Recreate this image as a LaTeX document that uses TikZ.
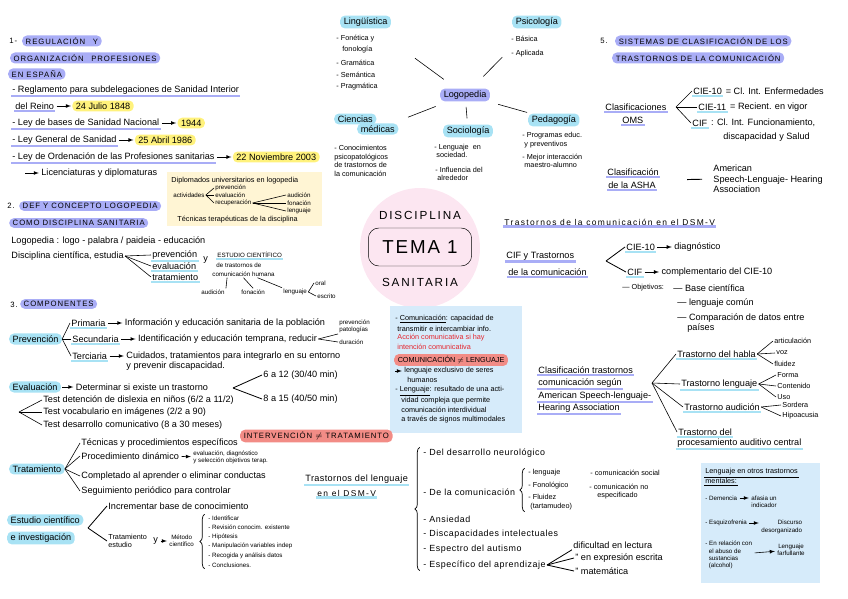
\documentclass[tikz,border=0pt]{standalone}
\usepackage{fontspec}
\setmainfont{Liberation Sans}
\usetikzlibrary{positioning,decorations.pathreplacing}

\definecolor{lav}{HTML}{A9ADF6}
\definecolor{skyhl}{HTML}{A8E2F4}
\definecolor{yelhl}{HTML}{FFF27C}
\definecolor{redhl}{HTML}{F28C86}
\definecolor{boxblue}{HTML}{D6EBFA}
\definecolor{boxbeige}{HTML}{FFF5D4}
\definecolor{pinkbg}{HTML}{FCE6F1}
\definecolor{redtxt}{HTML}{E5262E}

\newcommand\handfont{\fontsize{7.8}{9}\selectfont}
\newcommand\midfont{\fontsize{7.6}{8.8}\selectfont\addfontfeatures{LetterSpace=6}}
\newcommand\smallfont{\fontsize{6.2}{7.2}\selectfont}
\newcommand\tinyfont{\fontsize{5.3}{6.2}\selectfont}
\newcommand\capfont{\fontsize{6.6}{7.6}\selectfont\addfontfeatures{LetterSpace=12}}
\newcommand\widefont{\fontsize{7.2}{8.4}\selectfont\addfontfeatures{LetterSpace=16}}
\newcommand\titlefont{\fontsize{10}{12}\selectfont\addfontfeatures{LetterSpace=16}}
\newcommand\temafont{\fontsize{16}{18}\selectfont\addfontfeatures{LetterSpace=10}}

\begin{document}
\begin{tikzpicture}[
  x=0.3mm, y=-0.3mm,
  txt/.style={anchor=west, inner sep=1pt, font=\handfont},
  sml/.style={txt, font=\smallfont},
  tny/.style={txt, font=\tinyfont},
  pill/.style={txt, rounded corners=4pt, inner xsep=3pt, inner ysep=1.8pt},
  lavpill/.style={pill, fill=lav, font=\capfont},
  skypill/.style={pill, fill=skyhl},
  yelpill/.style={pill, fill=yelhl},
  redpill/.style={pill, fill=redhl, font=\capfont},
  lavline/.style={append after command={(\tikzlastnode.south west) edge[draw=lav, line width=1.8pt] (\tikzlastnode.south east)}},
  skyline/.style={append after command={(\tikzlastnode.south west) edge[draw=skyhl, line width=1.8pt] (\tikzlastnode.south east)}},
  inkline/.style={append after command={(\tikzlastnode.south west) edge[draw, line width=0.4pt] (\tikzlastnode.south east)}},
  link/.style={draw, line width=0.5pt},
  arr/.style={draw, -latex, line width=0.5pt, shorten <=1pt, shorten >=1pt},
  bracket/.style={draw, line width=0.6pt, decorate, decoration={brace, amplitude=4pt}},
  panel/.style={anchor=north west, inner sep=0pt}
]
\useasboundingbox (0,0) rectangle (848,599);

% backgrounds
\node[circle, fill=pinkbg, minimum size=36mm, inner sep=0pt] (halo) at (420,248) {};
\node[panel, fill=boxbeige, minimum width=46.5mm, minimum height=16.2mm] (dipbox) at (167,172) {};
\node[panel, fill=boxblue, minimum width=39.6mm, minimum height=38mm] (combox) at (390,306) {};
\node[panel, fill=boxblue, minimum width=35.7mm, minimum height=36mm] (mentbox) at (701,463) {};

% centre
\node[font=\titlefont] (discip) at (420,215) {DISCIPLINA};
\node[draw, rounded corners=9pt, minimum width=31mm, minimum height=11.4mm, font=\temafont] (tema) at (420,247) {TEMA 1};
\node[font=\titlefont] (sanit) at (420,282) {SANITARIA};

% 1. regulacion
\node[txt, font=\capfont] (num1) at (8,41) {1-};
\node[lavpill] (regu) at (22,41) {REGULACIÓN\quad Y};
\node[lavpill] (orgp) at (10,58) {ORGANIZACIÓN\quad PROFESIONES};
\node[lavpill] (espa) at (8,74) {EN ESPAÑA};
\node[txt, lavline] (regla) at (11,90) {- Reglamento para subdelegaciones de Sanidad Interior};
\node[txt, lavline] (reino) at (14,106) {del Reino};
\node[yelpill, right=5mm of reino] (d1848) {24 Julio 1848};
\node[txt, lavline] (leyb) at (11,123) {- Ley de bases de Sanidad Nacional};
\node[yelpill, right=5mm of leyb] (d1944) {1944};
\node[txt, lavline] (leyg) at (11,140) {- Ley General de Sanidad};
\node[yelpill, right=5mm of leyg] (d1986) {25 Abril 1986};
\node[txt, lavline] (leyo) at (11,157) {- Ley de Ordenación de las Profesiones sanitarias};
\node[yelpill, right=5mm of leyo] (d2003) {22 Noviembre 2003};
\coordinate (lic0) at (24,173);
\node[txt] (licen) at (40,173) {Licenciaturas y diplomaturas};
\draw[arr] (reino) -- (d1848);
\draw[arr] (leyb) -- (d1944);
\draw[arr] (leyg) -- (d1986);
\draw[arr] (leyo) -- (d2003);
\draw[arr] (lic0) -- (licen);

% diplomados
\node[sml] (dipl) at (170,181) {Diplomados universitarios en logopedia};
\node[tny] (activ) at (172,195) {actividades};
\node[tny] (bprev) at (214,188) {prevención};
\node[tny] (beval) at (214,195) {evaluación};
\node[tny] (brecu) at (214,203) {recuperación};
\node[tny] (baud) at (286,195) {audición};
\node[tny] (bfon) at (286,203) {fonación};
\node[tny] (blen) at (286,211) {lenguaje};
\node[sml] (tecn) at (176,220) {Técnicas terapéuticas de la disciplina};
\draw[link] (activ.east) -- (bprev.west);
\draw[link] (activ.east) -- (beval.west);
\draw[link] (activ.east) -- (brecu.west);
\draw[link] (brecu.east) -- (baud.west);
\draw[link] (brecu.east) -- (bfon.west);
\draw[link] (brecu.east) -- (blen.west);

% 2. def y concepto
\node[txt, font=\capfont] (num2) at (6,206) {2.};
\node[lavpill] (defc) at (19,206) {DEF Y CONCEPTO LOGOPEDIA};
\node[lavpill] (comod) at (9,223) {COMO DISCIPLINA SANITARIA};
\node[txt] (logod) at (10,241) {Logopedia : logo - palabra / paideia - educación};
\node[txt] (discc) at (10,256) {Disciplina científica, estudia};
\node[txt, skyline] (dprev) at (151,255) {prevención};
\node[txt, skyline] (deval) at (151,266) {evaluación};
\node[txt, skyline] (dtrat) at (151,277) {tratamiento};
\draw[link] (discc.east) -- (dprev.west);
\draw[link] (discc.east) -- (deval.west);
\draw[link] (discc.east) -- (dtrat.west);
\node[txt] (yand) at (202,260) {y};
\node[tny, skyline] (estc) at (216,255) {ESTUDIO CIENTÍFICO};
\node[tny] (detr) at (215,265) {de trastornos de};
\node[tny] (comh) at (211,274) {comunicación humana};
\node[tny] (caud) at (200,292) {audición};
\node[tny] (cfon) at (240,292) {fonación};
\node[tny] (clen) at (282,292) {lenguaje};
\node[tny] (coral) at (314,283) {oral};
\node[tny] (cesc) at (316,296) {escrito};
\draw[link] ([xshift=-14pt]comh.south) -- (caud.north east);
\draw[link] (comh.south) -- (cfon.north);
\draw[link] ([xshift=12pt]comh.south) -- (clen.north west);
\draw[link] (clen.east) -- (coral.west);
\draw[link] (clen.east) -- (cesc.west);

% 3. componentes
\node[txt, font=\capfont] (num3) at (9,305) {3.};
\node[lavpill] (compo) at (20,304) {COMPONENTES};
\node[skypill] (prevn) at (9,339) {Prevención};
\node[txt, skyline] (prim) at (70,323) {Primaria};
\node[txt, skyline] (secu) at (71,339) {Secundaria};
\node[txt, skyline] (terc) at (71,356) {Terciaria};
\draw[link] (prevn.east) -- (prim.west);
\draw[link] (prevn.east) -- (secu.west);
\draw[link] (prevn.east) -- (terc.west);
\node[txt, right=5mm of prim] (info) {Información y educación sanitaria de la población};
\node[txt, right=5mm of secu] (ident) {Identificación y educación temprana, reducir};
\node[tny, align=left] (prvpat) at (338,326) {prevención\\patologías};
\node[tny] (durac) at (338,342) {duración};
\node[txt, right=5mm of terc] (cuid) {Cuidados, tratamientos para integrarlo en su entorno};
\node[txt] (cuid2) at (125,366) {y prevenir discapacidad.};
\draw[arr] (prim) -- (info);
\draw[arr] (secu) -- (ident);
\draw[arr] (terc) -- (cuid);
\draw[link] (ident.east) -- (prvpat.south west);
\draw[link] (ident.east) -- (durac.west);

\node[skypill] (evalu) at (9,387) {Evaluación};
\node[txt, right=4mm of evalu] (deter) {Determinar si existe un trastorno};
\draw[arr] (evalu) -- (deter);
\coordinate (evfork) at (233,388);
\node[txt] (e612) at (262,375) {6 a 12 (30/40 min)};
\node[txt] (e815) at (262,399) {8 a 15 (40/50 min)};
\draw[link, line width=0.7pt] (evfork) -- (e612.west);
\draw[link, line width=0.7pt] (evfork) -- (e815.west);
\coordinate (tfork) at (19,412);
\node[txt] (test1) at (42,400) {Test detención de dislexia en niños (6/2 a 11/2)};
\node[txt] (test2) at (42,412) {Test vocabulario en imágenes (2/2 a 90)};
\node[txt] (test3) at (42,425) {Test desarrollo comunicativo (8 a 30 meses)};
\draw[link] (tfork) -- (test1.west);
\draw[link] (tfork) -- (test2.west);
\draw[link] (tfork) -- (test3.west);

\node[redpill] (interv) at (240,436) {INTERVENCIÓN $\neq$ TRATAMIENTO};

\node[skypill] (trata) at (9,469) {Tratamiento};
\node[txt] (tecp) at (80,443) {Técnicas y procedimientos específicos};
\node[txt] (dinam) at (80,456) {Procedimiento dinámico};
\node[tny, align=left] (evdiag) at (192,457) {evaluación, diagnóstico\\y selección objetivos terap.};
\node[txt] (compd) at (80,476) {Completado al aprender o eliminar conductas};
\node[txt] (segui) at (80,491) {Seguimiento periódico para controlar};
\draw[link] (trata.east) -- (tecp.west);
\draw[link] (trata.east) -- (dinam.west);
\draw[link] (trata.east) -- (compd.west);
\draw[link] (trata.east) -- (segui.west);
\draw[arr] (dinam) -- (evdiag);

\node[skypill] (estu) at (7,520) {Estudio científico};
\node[skypill] (inves) at (7,538) {e investigación};
\coordinate (efork) at (88,528);
\node[txt] (incre) at (107,506) {Incrementar base de conocimiento};
\node[sml, align=left] (tratest) at (107,541) {Tratamiento\\estudio};
\draw[link, line width=0.7pt] (efork) -- (incre.west);
\draw[link, line width=0.7pt] (efork) -- (tratest.west);
\node[txt] (yest) at (152,541) {y};
\node[tny, align=center] (metodo) at (168,541) {Método\\científico};
\draw[arr] (yest) -- (metodo);
\node[tny] (identi) at (207,518) {- Identificar};
\node[tny] (revis) at (207,527) {- Revisión conocim. existente};
\node[tny] (hipot) at (207,537) {- Hipótesis};
\node[tny] (manip) at (207,546) {- Manipulación variables indep};
\node[tny] (recog) at (207,556) {- Recogida y análisis datos};
\node[tny] (concl) at (207,565) {- Conclusiones.};
\draw[bracket] ([xshift=-2pt]concl.south west) -- ([xshift=-2pt]identi.north west);

% logopedia map
\node[lavpill, font=\handfont] (logop) at (440,95) {Logopedia};
\node[skypill] (lingu) at (340,22) {Lingüística};
\node[sml] (fonet) at (335,39) {- Fonética y};
\node[sml] (fonol) at (341,50) {fonología};
\node[sml] (grama) at (335,63) {- Gramática};
\node[sml] (seman) at (335,75) {- Semántica};
\node[sml] (pragm) at (335,87) {- Pragmática};
\node[skypill] (psico) at (512,22) {Psicología};
\node[sml] (basic) at (510,39) {- Básica};
\node[sml] (aplic) at (510,54) {- Aplicada};
\node[skypill] (cienc) at (334,119) {Ciencias};
\node[skypill] (medic) at (357,129) {médicas};
\node[sml, align=left] (conoc) at (333,161) {- Conocimientos\\psicopatológicos\\de trastornos de\\la comunicación};
\node[skypill] (socio) at (443,131) {Sociología};
\node[sml, align=left] (socled) at (433,151) {- Lenguaje \ en\\ \ sociedad.};
\node[sml, align=left] (infl) at (434,174) {- Influencia del\\ \ alrededor};
\node[skypill] (pedag) at (528,120) {Pedagogía};
\node[sml, align=left] (progr) at (521,140) {- Programas educ.\\ \ y preventivos};
\node[sml, align=left] (mejor) at (521,161) {- Mejor interacción\\ \ maestro-alumno};
\draw[link, shorten <=4.6mm, shorten >=15mm] (logop) -- (lingu);
\draw[link, shorten <=5mm, shorten >=12mm] (logop) -- (psico);
\draw[link, shorten <=4mm, shorten >=5mm] (logop) -- (medic);
\draw[link, shorten <=1.6mm, shorten >=1.8mm] (logop) -- (socio);
\draw[link, shorten <=3mm, shorten >=1mm] (logop) -- (pedag);

% 5. sistemas
\node[txt, font=\capfont] (num5) at (599,41) {5.};
\node[lavpill] (sistm) at (615,41) {SISTEMAS DE CLASIFICACIÓN DE LOS};
\node[lavpill] (trasc) at (612,58) {TRASTORNOS DE LA COMUNICACIÓN};
\node[txt, lavline] (clasoms) at (604,107) {Clasificaciones};
\node[txt, lavline] (oms) at (621,120) {OMS};
\coordinate (omsfork) at (676,107);
\node[txt, skyline] (cie10) at (692,91) {CIE-10};
\node[txt, right=1pt of cie10] (cie10t) {= Cl. Int. Enfermedades};
\node[txt, skyline] (cie11) at (697,107) {CIE-11};
\node[txt, right=1pt of cie11] (cie11t) {= Recient. en vigor};
\node[txt, skyline] (cifo) at (691,123) {CIF};
\node[txt, right=1pt of cifo] (cifot) {: Cl. Int. Funcionamiento,};
\node[txt] (cifo2) at (722,137) {discapacidad y Salud};
\draw[link] (omsfork) -- (cie10.west);
\draw[link] (omsfork) -- (cie11.west);
\draw[link] (omsfork) -- (cifo.west);
\node[txt, lavline] (clasa) at (606,172) {Clasificación};
\node[txt, lavline] (delas) at (607,185) {de la ASHA};
\node[txt, align=left] (amer) at (712,179) {American\\Speech-Lenguaje- Hearing\\Association};
\draw[link, line width=0.8pt, shorten <=9mm, shorten >=3mm] (delas.north east) -- (amer.west);

% trastornos DSM-V
\node[txt, lavline, font=\widefont] (dsmt) at (503,222) {Trastornos de la comunicación en el DSM-V};
\node[txt, lavline] (ciftr) at (505,256) {CIF y Trastornos};
\node[txt, lavline] (delac) at (507,272) {de la comunicación};
\coordinate (ciffork) at (606,261);
\node[txt, skyline] (cie10d) at (625,247) {CIE-10};
\node[txt, right=5mm of cie10d] (diagn) {diagnóstico};
\node[txt, skyline] (cifd) at (626,272) {CIF};
\node[txt, right=5mm of cifd] (complm) {complementario del CIE-10};
\draw[link, line width=0.7pt] (ciffork) -- (cie10d.west);
\draw[link, line width=0.7pt] (ciffork) -- (cifd.west);
\draw[arr] (cie10d) -- (diagn);
\draw[arr] (cifd) -- (complm);
\node[sml] (objet) at (621,288) {— Objetivos:};
\node[txt] (basec) at (672,288) {— Base científica};
\node[txt] (lcomun) at (676,303) {— lenguaje común};
\node[txt] (compdat) at (676,318) {— Comparación de datos entre};
\node[txt] (paises) at (686,328) {países};

% clasificacion ASHA
\node[txt, lavline] (cl1) at (537,370) {Clasificación trastornos};
\node[txt, lavline] (cl2) at (537,383) {comunicación según};
\node[txt, lavline] (cl3) at (537,396) {American Speech-lenguaje-};
\node[txt, lavline] (cl4) at (537,408) {Hearing Association};
\coordinate (ashafork) at (652,383);
\node[txt, skyline] (thab) at (676,354) {Trastorno del habla};
\node[txt, skyline] (tlen) at (680,384) {Trastorno lenguaje};
\node[txt, skyline] (taud) at (683,407) {Trastorno audición};
\node[txt, skyline] (tpro) at (677,432) {Trastorno del};
\node[txt, skyline] (tpro2) at (676,443) {procesamiento auditivo central};
\draw[link] (ashafork) -- (thab.west);
\draw[link] (ashafork) -- (tlen.west);
\draw[link] (ashafork) -- (taud.west);
\draw[link] (ashafork) -- (tpro.west);
\node[sml] (artic) at (773,341) {articulación};
\node[sml] (voz) at (775,353) {voz};
\node[sml] (fluid) at (773,364) {fluidez};
\node[sml] (forma) at (776,375) {Forma};
\node[sml] (conte) at (776,386) {Contenido};
\node[sml] (usol) at (776,397) {Uso};
\node[sml] (sorde) at (781,405) {Sordera};
\node[sml] (hipoa) at (781,416) {Hipoacusia};
\draw[link] (thab.east) -- (artic.west);
\draw[link] (thab.east) -- (voz.west);
\draw[link] (thab.east) -- (fluid.west);
\draw[link] (tlen.east) -- (forma.west);
\draw[link] (tlen.east) -- (conte.west);
\draw[link] (tlen.east) -- (usol.west);
\draw[link] (taud.east) -- (sorde.west);
\draw[link] (taud.east) -- (hipoa.west);

% comunicacion / lenguaje
\node[sml] (comdef) at (394,319) {- \underline{Comunicación}: capacidad de};
\node[sml] (trans) at (396,329) {transmitir e intercambiar info.};
\node[sml, text=redtxt] (accion) at (396,338) {Acción comunicativa si hay};
\node[sml, text=redtxt] (intenc) at (396,347) {intención comunicativa};
\node[redpill, font=\smallfont] (comlen) at (394,360) {COMUNICACIÓN $\neq$ LENGUAJE};
\coordinate (excl0) at (394,371);
\node[sml] (exclu) at (403,371) {lenguaje exclusivo de seres};
\draw[arr] (excl0) -- (exclu);
\node[sml] (human) at (406,380) {humanos};
\node[sml] (lendef) at (394,391) {- \underline{Lenguaje}: resultado de una acti-};
\node[sml] (vidad) at (400,401) {vidad compleja que permite};
\node[sml] (interd) at (400,410) {comunicación interdividual};
\node[sml] (signos) at (400,420) {a través de signos multimodales};

% trastornos del lenguaje
\node[txt, skyline, font=\handfont\addfontfeatures{LetterSpace=4}] (tleng) at (304,479) {Trastornos del lenguaje};
\node[txt, skyline, font=\widefont] (endsm) at (316,493) {en el DSM-V};
\node[txt, font=\midfont] (neuro) at (422,453) {- Del desarrollo neurológico};
\node[txt, font=\midfont] (decom) at (422,492) {- De la comunicación};
\node[sml] (lengq) at (527,473) {- lenguaje};
\node[sml] (fonlg) at (527,486) {- Fonológico};
\node[sml] (fluz) at (527,497) {- Fluidez};
\node[sml] (tartm) at (529,507) {(tartamudeo)};
\node[sml] (csoc) at (589,473) {- comunicación social};
\node[sml] (cnoe) at (588,487) {- comunicación no};
\node[sml] (espf) at (596,496) {especificado};
\node[txt, font=\midfont] (ansie) at (422,519) {- Ansiedad};
\node[txt, font=\midfont] (discap) at (422,534) {- Discapacidades intelectuales};
\node[txt, font=\midfont] (autis) at (422,549) {- Espectro del autismo};
\node[txt, font=\midfont] (aprend) at (422,565) {- Específico del aprendizaje};
\node[txt] (dlect) at (572,545) {dificultad en lectura};
\node[txt] (dexpr) at (574,558) {'' en expresión escrita};
\node[txt] (dmate) at (574,571) {'' matemática};
\draw[link, line width=0.7pt] (aprend.east) -- (dlect.south west);
\draw[link, line width=0.7pt] (aprend.east) -- (dexpr.west);
\draw[link, line width=0.7pt] (aprend.east) -- (dmate.west);
\draw[bracket] ([xshift=-2pt]aprend.south west) -- ([xshift=-2pt]neuro.north west);
\draw[bracket] ([xshift=-2pt]lengq.west |- tartm.south) -- ([xshift=-2pt]lengq.north west);

% otros trastornos mentales
\node[sml, inkline] (lenot) at (704,472) {Lenguaje en otros trastornos};
\node[sml, inkline] (mentl) at (704,481) {mentales:};
\node[tny] (demen) at (704,498) {- Demencia};
\node[tny, align=right] (afasi) at (750,502) {afasia un\\indicador};
\node[tny] (esqz) at (704,523) {- Esquizofrenia};
\node[tny, align=right] (discu) at (760,527) {Discurso\\desorganizado};
\node[tny, align=left] (relac) at (704,555) {- En relación con\\\ \ el abuso de\\\ \ sustancias\\\ \ (alcohol)};
\node[tny, align=center] (farfu) at (776,550) {Lenguaje\\farfullante};
\draw[arr] (demen) -- (afasi.west |- demen);
\draw[arr] (esqz) -- (discu.west |- esqz);
\draw[arr] (relac) -- (farfu);
\end{tikzpicture}
\end{document}
